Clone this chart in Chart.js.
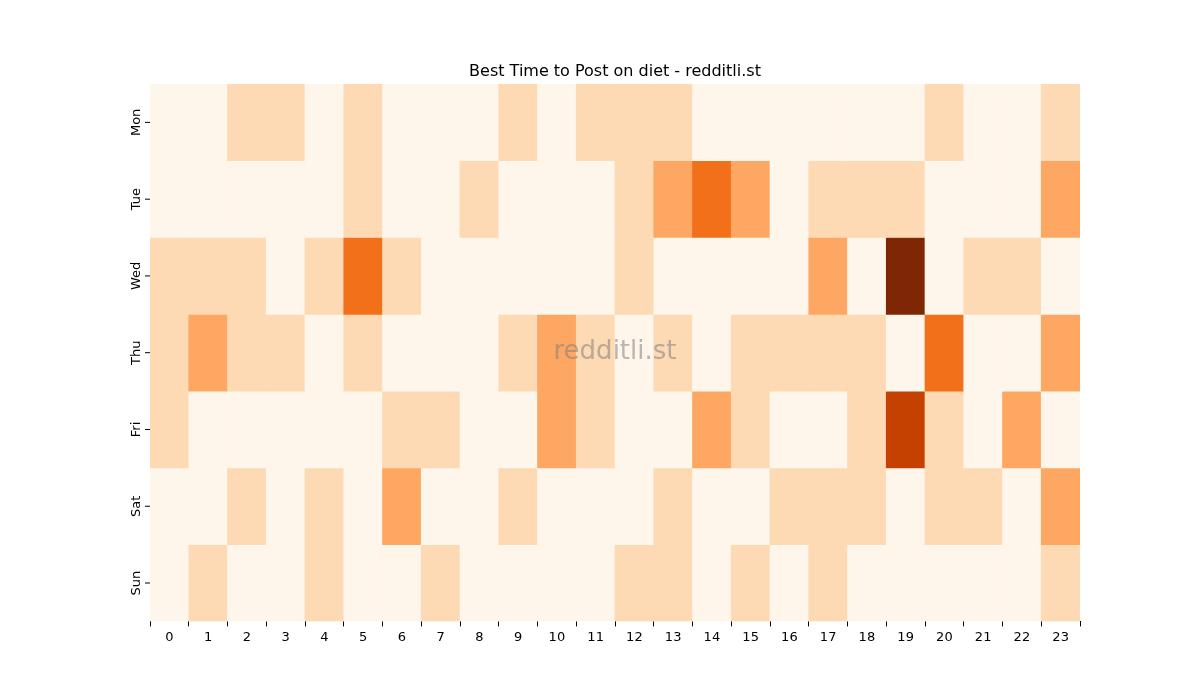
<!DOCTYPE html>
<html><head><meta charset="utf-8">
<script src="https://cdn.jsdelivr.net/npm/chart.js@4"></script>
<style>body{margin:0;background:#fff}#w{width:1200px;height:700px}</style>
</head><body><div id="w"><canvas id="c"></canvas></div>
<script>
const hours = Array.from({length:24},(_,i)=>String(i));
const days = ["Mon","Tue","Wed","Thu","Fri","Sat","Sun"];
const Mon = [0,0,1,1,0,1,0,0,0,1,0,1,1,1,0,0,0,0,0,0,1,0,0,1];
const Tue = [0,0,0,0,0,1,0,0,1,0,0,0,1,2,3,2,0,1,1,1,0,0,0,2];
const Wed = [1,1,1,0,1,3,1,0,0,0,0,0,1,0,0,0,0,2,0,5,0,1,1,0];
const Thu = [1,2,1,1,0,1,0,0,0,1,2,1,0,1,0,1,1,1,1,0,3,0,0,2];
const Fri = [1,0,0,0,0,0,1,1,0,0,2,1,0,0,2,1,0,0,1,4,1,0,2,0];
const Sat = [0,0,1,0,1,0,2,0,0,1,0,0,0,1,0,0,1,1,1,0,1,1,0,2];
const Sun = [0,1,0,0,1,0,0,1,0,0,0,0,1,1,0,1,0,1,0,0,0,0,0,1];
const rows = [Mon,Tue,Wed,Thu,Fri,Sat,Sun];
const palette = ["#fef5eb","#fdd9b4","#fda762","#f3701b","#c54102","#7f2704"];

const datasets = rows.map((vals,r)=>({
  label: days[r],
  data: vals.map(()=>[r, r+1]),
  backgroundColor: vals.map(v=>palette[v]),
  borderWidth: 0,
  barPercentage: 1.0,
  categoryPercentage: 1.0,
  grouped: false
}));

const deco = {
  id:'deco',
  afterDraw(chart){
    const {ctx, chartArea:a, scales:{y}} = chart;
    ctx.save();
    ctx.fillStyle='#000';
    ctx.font='16px "DejaVu Sans"';
    ctx.textAlign='center'; ctx.textBaseline='alphabetic';
    ctx.fillText('Best Time to Post on diet - redditli.st',(a.left+a.right)/2,76);
    ctx.font='13px "DejaVu Sans"';
    days.forEach((d,i)=>{
      const yy = y.getPixelForValue(i+0.5);
      ctx.strokeStyle='#000'; ctx.lineWidth=1;
      ctx.beginPath(); ctx.moveTo(a.left-5,yy); ctx.lineTo(a.left,yy); ctx.stroke();
      ctx.save(); ctx.translate(a.left-13,yy); ctx.rotate(-Math.PI/2);
      ctx.textBaseline='middle'; ctx.fillText(d,0,0); ctx.restore();
    });
    ctx.font='26px "DejaVu Sans"';
    ctx.fillStyle='rgba(128,128,128,0.55)';
    ctx.textBaseline='middle';
    ctx.fillText('redditli.st',615,352);
    ctx.restore();
  }
};

new Chart(document.getElementById('c'),{
  type:'bar',
  data:{labels:hours, datasets},
  options:{
    responsive:true, maintainAspectRatio:false, animation:false,
    layout:{padding:{left:150,right:120,top:84,bottom:52}},
    plugins:{legend:{display:false},tooltip:{enabled:false}},
    scales:{
      x:{grid:{display:true,drawOnChartArea:false,tickLength:5,color:'#000'},
         border:{display:false},
         ticks:{color:'#000',font:{family:'DejaVu Sans',size:13},padding:3,maxRotation:0,autoSkip:false}},
      y:{display:false,min:0,max:7,reverse:true}
    }
  },
  plugins:[deco]
});
</script></body></html>
